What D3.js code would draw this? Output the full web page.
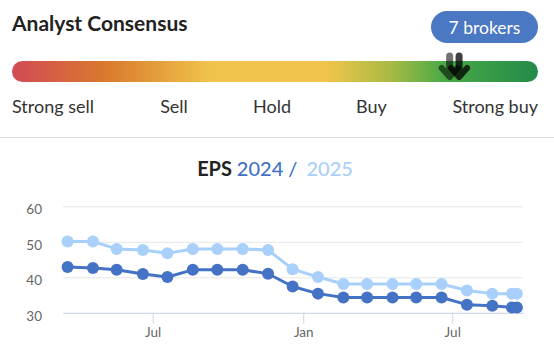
<!DOCTYPE html>
<html>
<head>
<meta charset="utf-8">
<script src="https://cdn.jsdelivr.net/npm/d3@7"></script>
<style>
  html, body { margin: 0; padding: 0; background: #fff; }
  svg { display: block; font-family: Lato, "Noto Sans", sans-serif; }
</style>
</head>
<body>
<svg id="chart" width="554" height="352"></svg>
<script>
// ---- data ----
const consensusLabels = ["Strong sell", "Sell", "Hold", "Buy", "Strong buy"];
const brokerCount = 7;
const consensusMarkers = [0.832, 0.85]; // positions on the scale (0 = strong sell, 1 = strong buy)
const dates = ["2023-03-19","2023-04-19","2023-05-18","2023-06-19","2023-07-19","2023-08-19","2023-09-18","2023-10-19","2023-11-19","2023-12-19","2024-01-19","2024-02-19","2024-03-19","2024-04-19","2024-05-18","2024-06-18","2024-07-19","2024-08-19","2024-09-12","2024-09-18"];
const eps2024 = [42.9,42.6,42.1,40.9,40.1,42.1,42.1,42.1,41.0,37.4,35.4,34.3,34.3,34.3,34.3,34.3,32.3,32.0,31.5,31.5];
const eps2025 = [50.1,50.1,48.0,47.7,46.8,48.0,48.0,48.0,47.7,42.3,40.1,38.1,38.1,38.1,38.1,38.1,36.3,35.4,35.4,35.4];
const yTicks = [30, 40, 50, 60];
const xTickDates = ["2023-07-01", "2024-01-01", "2024-07-01"];
const xTickLabels = ["Jul", "Jan", "Jul"];

const parse = d3.timeParse("%Y-%m-%d");
const svg = d3.select("#chart");

// ---- header ----
svg.append("text").attr("x", 12).attr("y", 31)
  .attr("font-size", 21).attr("font-weight", 700).attr("fill", "#222")
  .text("Analyst Consensus");

const badge = svg.append("g");
badge.append("rect").attr("x", 431).attr("y", 11).attr("width", 107).attr("height", 32)
  .attr("rx", 16).attr("fill", "#4a78c2");
badge.append("text").attr("x", 484.5).attr("y", 33.5).attr("text-anchor", "middle")
  .attr("font-size", 17.5).attr("fill", "#fff").text(brokerCount + " brokers");

// gradient bar
const defs = svg.append("defs");
const grad = defs.append("linearGradient").attr("id", "cons").attr("x1", "0%").attr("x2", "100%");
[[0, "#d24a56"], [0.18, "#d97a2d"], [0.38, "#f0c44c"], [0.6, "#f0c44c"], [0.72, "#a8ba44"], [0.82, "#4aaa46"], [1, "#248a4a"]]
  .forEach(([o, c]) => grad.append("stop").attr("offset", o).attr("stop-color", c));

const barX = d3.scaleLinear().domain([0, 1]).range([12, 538]);
svg.append("rect").attr("x", barX(0)).attr("y", 61).attr("width", barX(1) - barX(0)).attr("height", 21)
  .attr("rx", 10.5).attr("fill", "url(#cons)");

// arrows
consensusMarkers.forEach((p, i) => {
  const cx = barX(p);
  const g = svg.append("g").attr("opacity", i === 0 ? 0.55 : 0.75)
    .attr("stroke", "#000").attr("fill", "none").attr("stroke-linecap", "round").attr("stroke-linejoin", "round");
  g.append("line").attr("x1", cx).attr("x2", cx).attr("y1", 56).attr("y2", 75).attr("stroke-width", 7);
  g.append("polyline").attr("points", `${cx - 8},${68} ${cx},${77} ${cx + 8},${68}`).attr("stroke-width", 6);
});

// scale labels
const labelPos = [12, 174, 272, 371.5, 538];
const anchors = ["start", "middle", "middle", "middle", "end"];
consensusLabels.forEach((t, i) => {
  svg.append("text").attr("x", labelPos[i]).attr("y", 113).attr("text-anchor", anchors[i])
    .attr("font-size", 18).attr("fill", "#333").text(t);
});

// separator
svg.append("line").attr("x1", 0).attr("x2", 554).attr("y1", 137.5).attr("y2", 137.5)
  .attr("stroke", "#dedede").attr("stroke-width", 1);

// ---- EPS chart ----
const title = svg.append("text").attr("x", 275).attr("y", 176).attr("text-anchor", "middle").attr("font-size", 20);
title.append("tspan").attr("font-weight", 700).attr("fill", "#222").text("EPS ");
title.append("tspan").attr("fill", "#4472c4").attr("font-weight", 500).text("2024 / ");
title.append("tspan").attr("fill", "#a8d0fb").attr("font-weight", 500).attr("dx", 4).text("2025");

const x = d3.scaleTime().domain([new Date(2023, 2, 13, 10), new Date(2024, 8, 25, 12)]).range([63, 523]);
const y = d3.scaleLinear().domain([30, 60]).range([312.8, 206.3]);

// gridlines
const yAxis = d3.axisLeft(y).tickValues(yTicks).tickSize(-(523 - 63)).tickPadding(21);
const gy = svg.append("g").attr("transform", "translate(63,0)").call(yAxis);
gy.select(".domain").remove();
gy.selectAll(".tick line").attr("stroke", "#e6e6e6");
gy.selectAll(".tick text").attr("fill", "#666").attr("font-size", 13.5).attr("dy", "0.55em")
  .attr("font-family", "Lato, sans-serif");

// x axis
const xAxis = d3.axisBottom(x).tickValues(xTickDates.map(parse))
  .tickFormat((d, i) => xTickLabels[i]).tickSize(11).tickSizeOuter(0).tickPadding(4);
const gx = svg.append("g").attr("transform", "translate(0,312.8)").call(xAxis);
gx.select(".domain").attr("stroke", "#ccd6eb");
gx.selectAll(".tick line").attr("stroke", "#ccd6eb");
gx.selectAll(".tick text").attr("fill", "#666").attr("font-size", 13.5).attr("font-family", "Lato, sans-serif");

const series = [
  { values: eps2025, color: "#a8d0fb" },
  { values: eps2024, color: "#4472c4" }
];
const line = d3.line().x(d => x(d.date)).y(d => y(d.v));
series.forEach(s => {
  const pts = dates.map((d, i) => ({ date: parse(d), v: s.values[i] }));
  svg.append("path").datum(pts).attr("d", line).attr("fill", "none")
    .attr("stroke", s.color).attr("stroke-width", 3).attr("stroke-linejoin", "round");
  svg.append("g").selectAll("circle").data(pts).join("circle")
    .attr("cx", d => x(d.date)).attr("cy", d => y(d.v)).attr("r", 6).attr("fill", s.color);
});
</script>
</body>
</html>
